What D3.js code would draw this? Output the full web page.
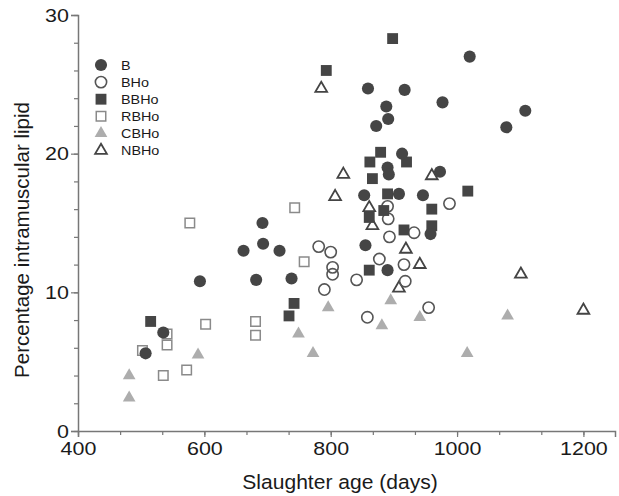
<!DOCTYPE html>
<html>
<head>
<meta charset="utf-8">
<script src="https://cdn.jsdelivr.net/npm/d3@7"></script>
<style>
  body { margin: 0; background: #fff; }
  text { font-family: "Liberation Sans", Arial, sans-serif; }
</style>
</head>
<body>
<script>
// values: [age in days, % lipid]
var groupB = [[593,10.8],[692,15.0],[662,13.0],[693,13.5],[719,13.0],[682,10.9],[738,11.0],[535,7.1],[507,5.6],
  [859,24.7],[917,24.6],[977,23.7],[888,23.4],[891,22.5],[872,22.0],[1020,27.0],[1108,23.1],[1078,21.9],
  [913,20.0],[890,19.0],[892,18.5],[973,18.7],[853,17.0],[908,17.1],[946,17.0],[855,13.4],[890,11.6],[958,14.2]];
var groupBHo = [[781,13.3],[800,12.9],[803,11.8],[803,11.3],[790,10.2],[841,10.9],[877,12.4],[916,12.0],[918,10.8],
  [858,8.2],[955,8.9],[988,16.4],[890,16.2],[891,15.3],[932,14.3],[893,14.0]];
var groupBBHo = [[515,7.9],[742,9.2],[734,8.3],[898,28.3],[793,26.0],[879,20.1],[862,19.4],[920,19.4],[866,18.2],
  [890,17.1],[1017,17.3],[960,16.0],[960,14.8],[916,14.5],[861,15.4],[884,15.9],[861,11.6]];
var groupRBHo = [[577,15.0],[743,16.1],[758,12.2],[602,7.7],[681,7.9],[681,6.9],[541,7.0],[541,6.2],[502,5.8],[535,4.0],[572,4.4]];
var groupCBHo = [[481,4.0],[481,2.4],[590,5.5],[749,7.0],[772,5.6],[796,8.9],[895,9.4],[881,7.6],[941,8.2],[1016,5.6],[1080,8.3]];
var groupNBHo = [[785,24.7],[820,18.5],[807,16.9],[960,18.4],[861,16.1],[866,14.8],[919,13.1],[941,12.0],[908,10.3],[1101,11.3],[1200,8.7]];

var legendNames = ["B", "BHo", "BBHo", "RBHo", "CBHo", "NBHo"];
var xTicks = [400, 600, 800, 1000, 1200];
var yTicks = [0, 10, 20, 30];

var width = 619, height = 496;

var svg = d3.select('body').append('svg')
  .attr('width', width)
  .attr('height', height);

var x = d3.scaleLinear().domain([400, 1250]).range([78, 615]);
var y = d3.scaleLinear().domain([0, 30]).range([431, 15]);

// minor ticks
var xMinor = d3.range(400, 1251, 200 / 3);
var yMinor = d3.range(0, 30.1, 2);

var axisColor = '#777';

var xAxisG = svg.append('g')
  .attr('transform', 'translate(0,431)')
  .call(d3.axisBottom(x).tickValues(xMinor).tickSize(4).tickFormat(''));
xAxisG.append('g').call(d3.axisBottom(x).tickValues(xTicks).tickSize(6).tickPadding(5).tickFormat(d3.format('d')));

var yAxisG = svg.append('g')
  .attr('transform', 'translate(78,0)')
  .call(d3.axisLeft(y).tickValues(yMinor).tickSize(4).tickFormat(''));
yAxisG.append('g').call(d3.axisLeft(y).tickValues(yTicks).tickSize(7).tickPadding(1));

// keep inner domain lines of the nested groups hidden
xAxisG.select('g .domain').remove();
yAxisG.select('g .domain').remove();

svg.selectAll('.domain').attr('stroke', axisColor).attr('stroke-width', 1.5);
svg.selectAll('.tick line').attr('stroke', axisColor).attr('stroke-width', 1.2);
svg.selectAll('.tick text')
  .attr('fill', '#1a1a1a')
  .attr('transform', 'scale(1.13,1)')
  .style('font-size', '19px')
  .style('font-family', '"Liberation Sans", Arial, sans-serif');

svg.append('text')
  .attr('transform', 'translate(340,489) scale(1.08,1)')
  .attr('text-anchor', 'middle')
  .style('font-size', '19.5px')
  .attr('fill', '#1a1a1a')
  .text('Slaughter age (days)');

svg.append('text')
  .attr('transform', 'translate(29,240) rotate(-90)')
  .attr('text-anchor', 'middle')
  .style('font-size', '20.5px')
  .attr('fill', '#1a1a1a')
  .text('Percentage intramuscular lipid');

// symbol styles per group
var styles = {
  B:    {type: d3.symbolCircle,   size: 115, fill: '#454545', stroke: 'none',  sw: 0},
  BHo:  {type: d3.symbolCircle,   size: 100, fill: 'none',    stroke: '#555',  sw: 1.6},
  BBHo: {type: d3.symbolSquare,   size: 118, fill: '#454545', stroke: 'none',  sw: 0},
  RBHo: {type: d3.symbolSquare,   size: 90,  fill: 'none',    stroke: '#8a8a8a', sw: 1.5},
  CBHo: {type: d3.symbolTriangle, size: 70,  fill: '#adadad', stroke: 'none',  sw: 0},
  NBHo: {type: d3.symbolTriangle, size: 60,  fill: 'none',    stroke: '#444',  sw: 1.8}
};

var drawGroup = function(name, data) {
  var s = styles[name];
  svg.append('g').selectAll('path')
    .data(data)
    .enter().append('path')
    .attr('d', d3.symbol().type(s.type).size(s.size))
    .attr('transform', function(d) { return 'translate(' + x(d[0]) + ',' + y(d[1]) + ')'; })
    .attr('fill', s.fill)
    .attr('stroke', s.stroke)
    .attr('stroke-width', s.sw);
};

drawGroup('RBHo', groupRBHo);
drawGroup('CBHo', groupCBHo);
drawGroup('NBHo', groupNBHo);
drawGroup('BHo', groupBHo);
drawGroup('BBHo', groupBBHo);
drawGroup('B', groupB);

// legend
var legend = svg.append('g').selectAll('g')
  .data(legendNames)
  .enter().append('g')
  .attr('transform', function(d, i) { return 'translate(101,' + (65 + i * 17.1) + ')'; });

legend.append('path')
  .attr('d', function(d) { return d3.symbol().type(styles[d].type).size(styles[d].size)(); })
  .attr('fill', function(d) { return styles[d].fill; })
  .attr('stroke', function(d) { return styles[d].stroke; })
  .attr('stroke-width', function(d) { return styles[d].sw; });

legend.append('text')
  .attr('transform', 'translate(20,4.5) scale(1.15,1)')
  .style('font-size', '12.5px')
  .attr('fill', '#1a1a1a')
  .text(function(d) { return d; });
</script>
</body>
</html>
